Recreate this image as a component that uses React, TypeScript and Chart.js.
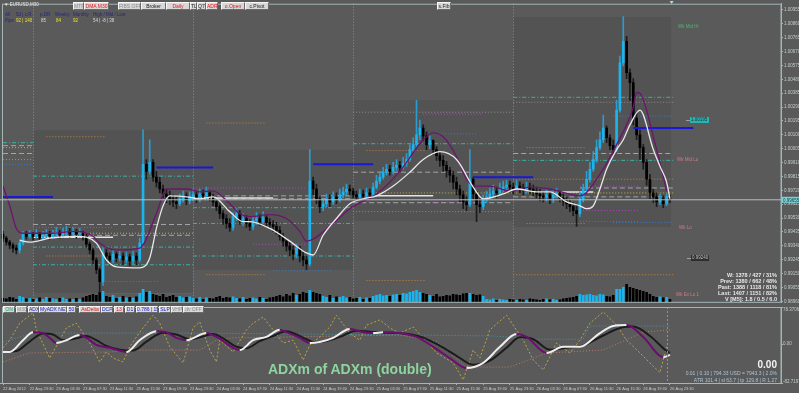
import React, { useEffect, useRef } from "react";
import { Chart, registerables } from "chart.js";

Chart.register(...registerables);

// ---------- DATA (prices in points, 1 point = 0.00001) ----------
const firstOpen = 99419;
const closePts = [
  99392, 99365, 99345, 99324, 99311, 99358, 99419, 99405, 99419, 99405,
  99419, 99392, 99412, 99426, 99405, 99419, 99432, 99412, 99426, 99439,
  99419, 99432, 99419, 99426, 99405, 99351, 99311, 99243, 99176, 99095,
  99291, 99270, 99243, 99284, 99257, 99270, 99243, 99264, 99237, 99270,
  99243, 99358, 99898, 99850, 99911, 99810, 99776, 99729, 99695, 99675,
  99662, 99641, 99628, 99662, 99682, 99648, 99675, 99689, 99662, 99695,
  99682, 99702, 99675, 99641, 99608, 99560, 99527, 99493, 99466, 99540,
  99560, 99513, 99527, 99493, 99473, 99513, 99527, 99506, 99533, 99500,
  99486, 99473, 99446, 99405, 99372, 99338, 99311, 99284, 99324, 99270,
  99243, 99216, 99783, 99729, 99662, 99608, 99628, 99662, 99641, 99675,
  99662, 99689, 99709, 99729, 99715, 99689, 99675, 99695, 99682, 99702,
  99689, 99742, 99783, 99810, 99844, 99864, 99850, 99877, 99891, 99877,
  99904, 99931, 99999, 100033, 100100, 100147, 100093, 100033, 100060, 99999,
  99958, 99925, 99891, 99857, 99823, 99776, 99729, 99689, 99641, 99621,
  99796, 99695, 99621, 99608, 99655, 99675, 99695, 99715, 99702, 99729,
  99742, 99756, 99742, 99729, 99749, 99736, 99722, 99742, 99729, 99715,
  99695, 99682, 99675, 99689, 99668, 99689, 99702, 99668, 99648, 99628,
  99608, 99581, 99560, 99662, 99729, 99796, 99864, 99931, 100012, 100066,
  100147, 100080, 100026, 99999, 100269, 100593, 100741, 100525, 100458, 100215,
  100100, 100012, 99911, 99796, 99702, 99675, 99641, 99662, 99628, 99668,
  99655,
];
const highPts = [
  99439, 99405, 99378, 99358, 99345, 99372, 99439, 99439, 99446, 99432,
  99452, 99432, 99439, 99452, 99439, 99446, 99466, 99446, 99459, 99473,
  99459, 99466, 99452, 99459, 99439, 99419, 99365, 99324, 99257, 99189,
  99324, 99318, 99291, 99311, 99297, 99304, 99291, 99297, 99284, 99304,
  99291, 99392, 100134, 99931, 100066, 99931, 99850, 99810, 99756, 99729,
  99715, 99689, 99675, 99695, 99715, 99702, 99709, 99729, 99709, 99729,
  99722, 99742, 99715, 99695, 99662, 99628, 99581, 99554, 99527, 99567,
  99594, 99581, 99560, 99547, 99520, 99540, 99567, 99554, 99574, 99547,
  99527, 99513, 99500, 99473, 99426, 99392, 99365, 99338, 99351, 99338,
  99297, 99270, 99999, 99810, 99763, 99675, 99662, 99695, 99689, 99709,
  99702, 99729, 99742, 99763, 99756, 99736, 99715, 99729, 99722, 99736,
  99729, 99769, 99823, 99850, 99877, 99898, 99891, 99911, 99931, 99918,
  99945, 99972, 100033, 100080, 100336, 100201, 100168, 100120, 100093, 100066,
  100019, 99985, 99958, 99918, 99877, 99850, 99810, 99756, 99715, 99675,
  99999, 99810, 99715, 99662, 99689, 99715, 99736, 99756, 99742, 99769,
  99783, 99790, 99783, 99769, 99790, 99776, 99763, 99776, 99769, 99756,
  99742, 99729, 99709, 99722, 99709, 99722, 99736, 99715, 99695, 99675,
  99655, 99635, 99614, 99709, 99763, 99850, 99911, 99985, 100066, 100120,
  100235, 100161, 100100, 100066, 100336, 100640, 100910, 100775, 100552, 100485,
  100255, 100134, 100033, 99931, 99830, 99729, 99702, 99695, 99682, 99695,
  99689,
];
const lowPts = [
  99372, 99345, 99318, 99297, 99284, 99291, 99345, 99385, 99392, 99378,
  99392, 99372, 99378, 99392, 99385, 99392, 99405, 99392, 99399, 99412,
  99399, 99405, 99392, 99399, 99378, 99331, 99284, 99216, 99149, 99021,
  99068, 99237, 99216, 99223, 99230, 99237, 99210, 99223, 99203, 99216,
  99210, 99230, 99338, 99796, 99830, 99783, 99742, 99702, 99668, 99635,
  99621, 99608, 99594, 99614, 99641, 99621, 99628, 99648, 99635, 99641,
  99655, 99662, 99648, 99614, 99581, 99527, 99486, 99459, 99439, 99446,
  99513, 99486, 99479, 99466, 99446, 99452, 99486, 99479, 99493, 99473,
  99459, 99439, 99419, 99378, 99338, 99304, 99270, 99243, 99257, 99230,
  99203, 99176, 99203, 99689, 99628, 99567, 99581, 99608, 99608, 99621,
  99628, 99641, 99668, 99689, 99689, 99668, 99648, 99662, 99655, 99668,
  99662, 99675, 99729, 99763, 99796, 99823, 99823, 99830, 99857, 99850,
  99864, 99884, 99918, 99979, 100012, 100066, 100060, 99999, 100006, 99965,
  99925, 99884, 99850, 99810, 99776, 99729, 99689, 99641, 99594, 99581,
  99608, 99662, 99506, 99567, 99587, 99635, 99662, 99675, 99668, 99689,
  99709, 99722, 99709, 99695, 99715, 99702, 99689, 99702, 99695, 99682,
  99668, 99648, 99641, 99648, 99628, 99635, 99668, 99641, 99614, 99594,
  99574, 99547, 99473, 99540, 99641, 99715, 99776, 99850, 99911, 99999,
  100046, 100046, 99999, 99958, 99985, 100255, 100572, 100485, 100336, 100168,
  100066, 99931, 99864, 99756, 99662, 99635, 99608, 99621, 99601, 99614,
  99635,
];
const volumeTicks = [
  400, 350, 500, 450, 300, 600, 500, 350, 400, 300, 350, 450, 300, 500, 400, 350, 300, 400, 450, 300,
  350, 300, 400, 300, 450, 600, 700, 800, 700, 1000, 1100, 600, 500, 700, 400, 500, 600, 450, 500, 400,
  550, 900, 1300, 1000, 1100, 800, 700, 600, 800, 500, 600, 700, 500, 600, 450, 500, 550, 400, 350, 500,
  300, 450, 400, 350, 500, 600, 400, 500, 450, 550, 400, 350, 500, 300, 400, 450, 350, 500, 400, 300,
  450, 500, 600, 700, 550, 800, 650, 900, 700, 800, 1000, 900, 1200, 1000, 900, 800, 600, 500, 700, 400,
  550, 500, 600, 450, 500, 350, 400, 500, 300, 450, 400, 600, 700, 800, 650, 700, 600, 750, 800, 700,
  900, 850, 1000, 1100, 1200, 1000, 900, 800, 700, 600, 800, 550, 600, 700, 650, 800, 750, 700, 850, 900,
  900, 800, 700, 750, 600, 300, 250, 350, 200, 300, 250, 200, 300, 250, 200, 300, 250, 200, 350, 300,
  250, 200, 300, 350, 250, 300, 200, 250, 350, 400, 450, 500, 600, 800, 700, 750, 800, 700, 650, 800,
  750, 600, 550, 700, 1300, 1300, 1500, 1800, 1500, 1400, 1300, 1200, 1100, 1000, 800, 600, 500, 550, 450,
  500, 300,
];
const timeLabels = [
  "22 Aug 2012", "22 Aug 23:30", "23 Aug 03:30", "23 Aug 07:30", "23 Aug 11:30", "23 Aug 15:30",
  "23 Aug 19:30", "23 Aug 23:30", "24 Aug 03:30", "24 Aug 07:30", "24 Aug 11:30", "24 Aug 15:30",
  "24 Aug 19:30", "24 Aug 23:30", "25 Aug 03:30", "25 Aug 07:30", "25 Aug 11:30", "25 Aug 15:30",
  "25 Aug 19:30", "25 Aug 23:30", "26 Aug 03:30", "26 Aug 07:30", "26 Aug 11:30", "26 Aug 15:30",
  "26 Aug 19:30", "26 Aug 23:30",
];
const priceTicks = [
  1.00955, 1.0086, 1.00765, 1.0067, 1.00575, 1.0048, 1.00385, 1.0029, 1.00195, 1.001, 1.00005,
  0.9991, 0.99815, 0.9972, 0.99625, 0.9953, 0.99435, 0.9934, 0.99245, 0.9915, 0.99055, 0.9896,
];
const bidPts = 99655;

// moving averages [bar, points]
const whiteMA = [
  [5, 99378], [8, 99365], [14, 99392], [22, 99405], [28, 99358], [31, 99243], [34, 99196], [41, 99189],
  [44, 99257], [46, 99459], [48, 99614], [50, 99682], [55, 99675], [59, 99662], [63, 99675], [68, 99574],
  [72, 99506], [74, 99506], [80, 99459], [86, 99372], [91, 99291], [93, 99277], [96, 99412], [100, 99527],
  [104, 99628], [108, 99662], [112, 99682], [117, 99749], [122, 99844], [126, 99931], [131, 99985],
  [136, 99931], [141, 99742], [144, 99662], [150, 99695], [154, 99729], [160, 99709], [164, 99709],
  [169, 99641], [173, 99614], [175, 99594], [177, 99614], [179, 99729], [181, 99864], [184, 99999],
  [186, 100066], [188, 100168], [191, 100269], [195, 99999], [197, 99884], [199, 99776], [200, 99662],
];
const purpleMA = [
  [0, 99749], [2, 99614], [4, 99459], [6, 99426], [14, 99426], [22, 99439], [27, 99405], [29, 99358],
  [34, 99311], [41, 99324], [46, 99560], [49, 99729], [55, 99729], [59, 99709], [63, 99715], [68, 99628],
  [71, 99560], [74, 99540], [80, 99554], [85, 99527], [89, 99439], [91, 99372], [98, 99473], [104, 99594],
  [112, 99695], [119, 99850], [126, 100066], [129, 100114], [132, 100087], [136, 99952], [139, 99796],
  [142, 99749], [146, 99749], [152, 99715], [158, 99742], [164, 99729], [173, 99682], [179, 99830],
  [184, 100033], [189, 100289], [190, 100390], [191, 100384], [193, 100269], [195, 100087], [197, 99911],
  [199, 99715],
];

// level lines [fromBar, toBar, points]
const tealLevels = [
  [0, 9, 100046], [9, 57, 99817], [9, 57, 99331], [9, 57, 99210], [57, 105, 99493], [57, 105, 99270],
  [57, 105, 99601], [105, 153, 100039], [153, 201, 100357], [153, 201, 99925],
];
const grayDashLevels = [
  [0, 9, 100026], [0, 9, 99972], [9, 57, 99486], [9, 57, 99412], [57, 105, 99682], [57, 105, 99662],
  [105, 153, 99844], [105, 153, 99635], [153, 201, 99972], [173, 201, 99736], [153, 201, 99675],
];
const grayDotLevels = [[105, 153, 100255], [105, 153, 99574], [153, 201, 100323]];
const orangeLevels = [
  [0, 9, 99931], [13, 31, 100087], [13, 31, 99270], [61, 79, 100181], [61, 79, 99142], [109, 127, 99992],
  [109, 127, 99102], [157, 175, 100012], [157, 175, 99493], [153, 201, 99796], [153, 201, 99142],
];
const purpleLevels = [
  [9, 33, 99466], [29, 47, 99095], [57, 91, 99736], [75, 91, 99351], [126, 144, 100242], [126, 144, 99635],
  [173, 191, 99749], [173, 191, 99581],
];
const blueLevels = [
  [0, 9, 99898], [29, 57, 99014], [81, 99, 99169], [128, 142, 100107], [183, 201, 100228],
  [173, 191, 99506], [183, 201, 99500],
];
const yellowLevels = [[0, 9, 100012], [9, 57, 99426], [110, 153, 99702], [153, 201, 99702]];
const openLevels = [[9, 33, 99399], [57, 81, 99668], [111, 129, 99682], [167, 177, 99709]];
const blueBars = [[0, 15, 99675], [46, 63, 99877], [93, 111, 99898], [141, 159, 99810], [189, 207, 100147]];
const daySeparators = [9, 57, 105, 153];
const dayRanges = [[9, 57], [57, 105], [105, 153], [153, 200.5]];

// ADXm sub-window [bar, value]
const adxMain = [
  [0, -17], [2, -17], [6, 8], [9, 25], [12, 23], [14, 13], [16, 2], [19, 8], [23, 19], [25, 13], [28, -2],
  [32, -8], [37, -17], [41, 8], [46, 27], [49, 25], [52, 13], [55, 8], [61, 23], [64, 15], [69, -8],
  [71, -13], [75, 8], [79, 15], [83, 30], [85, 25], [89, 13], [92, 2], [95, 4], [99, 13], [104, 32],
  [107, 27], [111, 23], [114, 25], [119, 23], [124, 15], [129, -6], [134, -30], [139, -51], [144, -40],
  [149, -6], [154, 21], [157, 15], [163, -19], [168, -6], [173, -6], [179, 23], [183, 38], [187, 40],
  [192, 15], [198, -28], [200, -23],
];
const adxSignal = [
  [0, -17], [4, -15], [8, 5], [12, 22], [15, 20], [18, 8], [22, 12], [25, 17], [28, 8], [31, -4], [35, -12],
  [39, -14], [43, 5], [48, 24], [52, 20], [56, 10], [59, 14], [63, 21], [66, 12], [70, -6], [73, -9],
  [77, 6], [81, 17], [85, 27], [88, 20], [91, 10], [94, 3], [97, 6], [101, 15], [106, 28], [110, 26],
  [114, 24], [119, 23], [125, 16], [130, 0], [136, -25], [141, -44], [146, -35], [151, -8], [155, 14],
  [159, 10], [164, -12], [169, -8], [174, -3], [180, 18], [185, 34], [189, 37], [194, 17], [199, -15],
  [200, -19],
];
const adxZigzag = [
  [0, -8], [2, 8], [5, 44], [9, 66], [10, 30], [14, -30], [17, 8], [19, 34], [22, 44], [26, 2], [29, -38],
  [31, -17], [33, -30], [36, -38], [38, -6], [41, 25], [45, 61], [47, 44], [50, -6], [54, -40], [57, 34],
  [59, 47], [62, -13], [64, -38], [65, 8], [69, -17], [73, 30], [75, 44], [78, 57], [81, 30], [84, 2],
  [87, 8], [90, -34], [92, -2], [95, 15], [98, 36], [100, 61], [104, 23], [107, 8], [109, 40], [113, 51],
  [116, 34], [119, 23], [123, 36], [130, -19], [135, -40], [138, -76], [141, -13], [143, -30], [146, 30],
  [151, 61], [156, 8], [159, -34], [162, -55], [166, 2], [170, -19], [173, 8], [176, 44], [180, 68],
  [184, 40], [187, 8], [191, -19], [197, -61], [199, -6],
];
const adxUpper = [[0, 4], [9, 23], [60, 23], [120, 19], [147, 17], [160, 10], [174, 10], [176, 38], [200, 38]];
const adxLower = [
  [0, -38], [8, -19], [32, -17], [39, -13], [59, -13], [64, 8], [69, 13], [119, 19], [130, 5], [139, -49],
  [152, -49], [163, -19], [180, -13], [192, 25], [200, 30],
];
const subMax = 78.37061;
const subMin = -82.71975;

// ---------- STYLE ----------
const BG = "#5a5a5a";
const RANGE_BG = "#535353";
const AXIS = "#a2b6b6";
const UP = "#1ab4ee";
const DOWN = "#000000";
const FONT = "'Liberation Sans', Arial, sans-serif";
const X_MIN = -0.9;
const X_MAX = 233.3;

const p = (v: number) => v / 100000;
const segData = (segs: number[][]) => {
  const out: any[] = [];
  segs.forEach(([a, b, v]) => {
    out.push({ x: a, y: p(v) }, { x: b, y: p(v) }, { x: b, y: null });
  });
  return out;
};
const levelSet = (segs: number[][], color: string, dash: number[], width = 1, order = 20) => ({
  type: "line",
  data: segData(segs),
  borderColor: color,
  borderWidth: width,
  borderDash: dash,
  pointRadius: 0,
  spanGaps: false,
  order,
});

function mainConfig(): any {
  const opens = closePts.map((_, i) => (i === 0 ? firstOpen : closePts[i - 1]));
  const up = closePts.map((c, i) => c >= opens[i]);
  const bodies = closePts.map((c, i) => ({ x: i, y: [p(opens[i]), p(c === opens[i] ? c + 2 : c)] }));
  const wicks = closePts.map((_, i) => ({ x: i, y: [p(lowPts[i]), p(highPts[i])] }));
  const vols = volumeTicks.map((v, i) => ({ x: i, y: v }));
  const bid = p(bidPts);

  const bgPlugin = {
    id: "mainbg",
    beforeDraw(chart: any) {
      const { ctx, chartArea: a, scales } = chart;
      ctx.save();
      ctx.fillStyle = BG;
      ctx.fillRect(0, 0, chart.width, chart.height);
      // daily high-low range boxes
      ctx.fillStyle = RANGE_BG;
      dayRanges.forEach(([s, e]) => {
        const hi = Math.max(...highPts.slice(s, Math.ceil(e)));
        const lo = Math.min(...lowPts.slice(s, Math.ceil(e)));
        const x0 = scales.x.getPixelForValue(s);
        const x1 = scales.x.getPixelForValue(e);
        const y0 = scales.y.getPixelForValue(p(hi));
        const y1 = scales.y.getPixelForValue(p(lo));
        ctx.fillRect(Math.round(x0), Math.round(y0), Math.round(x1 - x0), Math.round(y1 - y0));
      });
      ctx.strokeStyle = "#8e8e8e";
      ctx.setLineDash([1, 2]);
      ctx.lineWidth = 1;
      daySeparators.forEach((b) => {
        const x = Math.round(scales.x.getPixelForValue(b)) + 0.5;
        ctx.beginPath();
        ctx.moveTo(x, a.top);
        ctx.lineTo(x, a.bottom);
        ctx.stroke();
      });
      ctx.restore();
    },
    afterDraw(chart: any) {
      const { ctx, chartArea: a, scales } = chart;
      ctx.save();
      ctx.strokeStyle = AXIS;
      ctx.lineWidth = 1;
      ctx.strokeRect(2.5, a.top + 0.5, a.right - 2.5, a.bottom - a.top - 0.5);
      // bid label on price axis
      const y = scales.y.getPixelForValue(bid);
      ctx.fillStyle = "#78d2d6";
      ctx.fillRect(a.right + 1, y - 3, 17, 6);
      ctx.fillStyle = "#204040";
      ctx.font = `4.5px ${FONT}`;
      ctx.textBaseline = "middle";
      ctx.fillText(bid.toFixed(5), a.right + 2, y + 0.5);
      // current bar marker
      const xm = scales.x.getPixelForValue(200.5);
      ctx.fillStyle = "#9fe0f0";
      ctx.beginPath();
      ctx.moveTo(xm - 2, 1);
      ctx.lineTo(xm + 2, 1);
      ctx.lineTo(xm, 4);
      ctx.fill();
      ctx.restore();
    },
  };

  return {
    type: "bar",
    data: {
      datasets: [
        { type: "line", data: [{ x: X_MIN, y: bid }, { x: X_MAX, y: bid }], borderColor: "#b4bebe", borderWidth: 1, pointRadius: 0, order: 1 },
        { type: "line", data: whiteMA.map(([x, v]) => ({ x, y: p(v) })), borderColor: "#e8e8e8", borderWidth: 1.3, pointRadius: 0, cubicInterpolationMode: "monotone", order: 2 },
        { type: "line", data: purpleMA.map(([x, v]) => ({ x, y: p(v) })), borderColor: "#6e1470", borderWidth: 1.3, pointRadius: 0, cubicInterpolationMode: "monotone", order: 2 },
        levelSet(blueBars, "#1818d8", [], 2, 3),
        { type: "bar", data: bodies, backgroundColor: up.map((u) => (u ? UP : DOWN)), barThickness: 2, grouped: false, order: 4 },
        { type: "bar", data: wicks, backgroundColor: up.map((u) => (u ? "#2a9cd0" : "#1c1c1c")), barThickness: 1, grouped: false, order: 5 },
        { type: "bar", yAxisID: "yv", data: vols, backgroundColor: up.map((u) => (u ? UP : DOWN)), barThickness: 2, grouped: false, order: 6 },
        levelSet(openLevels, "#e4e4e4", [], 1.5, 7),
        levelSet(tealLevels, "#3cb2a6", [4, 2, 1, 2]),
        levelSet(grayDashLevels, "#a6a6a6", [5, 3]),
        levelSet(grayDotLevels, "#8c8c8c", [1, 2]),
        levelSet(orangeLevels, "#c4843c", [1, 2]),
        levelSet(purpleLevels, "#b444c4", [1, 2]),
        levelSet(blueLevels, "#3a78d0", [1, 2]),
        levelSet(yellowLevels, "#bcb440", [1, 2]),
      ],
    },
    options: {
      animation: false,
      responsive: false,
      devicePixelRatio: 1,
      events: [],
      layout: { padding: { top: 2, bottom: 1, left: 0, right: 0 } },
      plugins: { legend: { display: false }, tooltip: { enabled: false } },
      scales: {
        x: { type: "linear", min: X_MIN, max: X_MAX, display: false, offset: false },
        y: {
          type: "linear",
          position: "right",
          min: 0.98953,
          max: 1.00998,
          afterBuildTicks: (s: any) => {
            s.ticks = priceTicks.map((v) => ({ value: v }));
          },
          afterFit: (s: any) => {
            s.width = 18;
          },
          grid: { drawOnChartArea: false, color: AXIS, tickLength: 2 },
          border: { color: AXIS },
          ticks: { color: "#c4cccc", font: { size: 4.5, family: FONT }, padding: 1, callback: (v: any) => Number(v).toFixed(5) },
        },
        yv: { type: "linear", display: false, min: 0, max: 30000 },
      },
    },
    plugins: [bgPlugin],
  };
}

function subConfig(): any {
  const plugin = {
    id: "subbg",
    beforeDraw(chart: any) {
      const { ctx } = chart;
      ctx.save();
      ctx.fillStyle = BG;
      ctx.fillRect(0, 0, chart.width, chart.height);
      ctx.restore();
    },
    afterDatasetsDraw(chart: any) {
      const { ctx, chartArea: a, scales } = chart;
      ctx.save();
      const x = Math.round(scales.x.getPixelForValue(199)) + 0.5;
      ctx.strokeStyle = "#909090";
      ctx.setLineDash([2, 2]);
      ctx.beginPath();
      ctx.moveTo(x, a.top);
      ctx.lineTo(x, a.bottom);
      ctx.stroke();
      ctx.restore();
    },
    afterDraw(chart: any) {
      const { ctx, chartArea: a, scales } = chart;
      ctx.save();
      ctx.strokeStyle = AXIS;
      ctx.lineWidth = 1;
      ctx.strokeRect(2.5, a.top + 0.5, a.right - 2.5, a.bottom - a.top);
      ctx.fillStyle = "#c4cccc";
      ctx.font = `4.5px ${FONT}`;
      ctx.textBaseline = "middle";
      const ys = scales.y;
      [
        [subMax, 3, subMax.toFixed(5)],
        [0, 0, "0.00"],
        [subMin, -1, subMin.toFixed(5)],
      ].forEach(([v, off, t]: any) => {
        const y = ys.getPixelForValue(v);
        ctx.fillText(t, a.right + 2, y + off);
        ctx.beginPath();
        ctx.moveTo(a.right, Math.round(y) + 0.5);
        ctx.lineTo(a.right + 2, Math.round(y) + 0.5);
        ctx.strokeStyle = AXIS;
        ctx.stroke();
      });
      ctx.restore();
    },
  };
  const line = (arr: number[][]) => arr.map(([x, y]) => ({ x, y }));
  return {
    type: "line",
    data: {
      datasets: [
        {
          data: line(adxMain),
          borderWidth: 2,
          pointRadius: 0,
          cubicInterpolationMode: "monotone",
          borderColor: "#eeeeee",
          segment: { borderColor: (c: any) => (c.p1.parsed.y < c.p0.parsed.y ? "#6e0c72" : "#eeeeee") },
          order: 1,
        },
        { data: line(adxSignal), borderWidth: 2, pointRadius: 0, cubicInterpolationMode: "monotone", borderColor: "#1c1c1c", order: 2 },
        { data: line(adxZigzag), borderWidth: 1, pointRadius: 0, borderColor: "#bca444", borderDash: [2, 2], order: 3 },
        { data: line(adxUpper), borderWidth: 1, pointRadius: 0, borderColor: "#3a9cb4", borderDash: [1, 2], order: 4 },
        { data: line(adxLower), borderWidth: 1, pointRadius: 0, borderColor: "#c07a68", borderDash: [1, 2], order: 4 },
      ],
    },
    options: {
      animation: false,
      responsive: false,
      devicePixelRatio: 1,
      events: [],
      layout: { padding: { top: 1, bottom: 0, left: 0, right: 0 } },
      plugins: { legend: { display: false }, tooltip: { enabled: false } },
      scales: {
        x: {
          type: "linear",
          min: X_MIN,
          max: X_MAX,
          offset: false,
          afterBuildTicks: (s: any) => {
            s.ticks = timeLabels.map((_, k) => ({ value: k * 8 }));
          },
          afterFit: (s: any) => {
            s.height = 10;
          },
          grid: { drawOnChartArea: false, color: AXIS, tickLength: 2 },
          border: { color: AXIS },
          ticks: {
            color: "#c4cccc",
            font: { size: 4, family: FONT },
            align: "start",
            maxRotation: 0,
            minRotation: 0,
            autoSkip: false,
            padding: 1,
            callback: (v: any) => timeLabels[Math.round(Number(v) / 8)],
          },
        },
        y: {
          type: "linear",
          position: "right",
          min: subMin,
          max: subMax,
          afterFit: (s: any) => {
            s.width = 18;
          },
          grid: { drawOnChartArea: false, drawTicks: false },
          border: { color: AXIS },
          ticks: { display: false },
        },
      },
    },
    plugins: [plugin],
  };
}

// ---------- OVERLAY TEXT ----------
type BtnProps = { x: number; y: number; w: number; h?: number; t: string; c?: string };
const Btn = ({ x, y, w, h = 8, t, c = "#202020" }: BtnProps) => (
  <div
    style={{
      position: "absolute",
      left: x,
      top: y,
      width: w,
      height: h,
      boxSizing: "border-box",
      background: "#d8d8d8",
      borderStyle: "solid",
      borderWidth: 1,
      borderColor: "#f6f6f6 #6a6a6a #6a6a6a #f6f6f6",
      color: c,
      fontSize: 5,
      lineHeight: `${h - 2}px`,
      textAlign: "center",
      whiteSpace: "nowrap",
      overflow: "hidden",
      fontFamily: FONT,
    }}
  >
    {t}
  </div>
);
type TxtProps = { x: number; y: number; t: string; c?: string; s?: number; b?: boolean; right?: boolean };
const Txt = ({ x, y, t, c = "#e0e0e0", s = 5, b = false, right = false }: TxtProps) => (
  <div
    style={{
      position: "absolute",
      left: right ? undefined : x,
      right: right ? 799 - x : undefined,
      top: y,
      color: c,
      fontSize: s,
      fontWeight: b ? "bold" : "normal",
      lineHeight: 1,
      whiteSpace: "nowrap",
      fontFamily: FONT,
    }}
  >
    {t}
  </div>
);

const RED = "#e01818";
const BLUE_T = "#2222cc";
const GRAY_T = "#8a8a8a";
const NAVY = "#26267a";
const YEL = "#e2e23a";

export default function App() {
  const mainRef = useRef<HTMLCanvasElement>(null);
  const subRef = useRef<HTMLCanvasElement>(null);
  useEffect(() => {
    const c1 = new Chart(mainRef.current as HTMLCanvasElement, mainConfig());
    const c2 = new Chart(subRef.current as HTMLCanvasElement, subConfig());
    return () => {
      c1.destroy();
      c2.destroy();
    };
  }, []);
  return (
    <div style={{ position: "fixed", left: 0, top: 0, width: 799, height: 393, background: BG, overflow: "hidden" }}>
      <canvas ref={mainRef} width={799} height={306} style={{ position: "absolute", left: 0, top: 0, width: 799, height: 306 }} />
      <canvas ref={subRef} width={799} height={87} style={{ position: "absolute", left: 0, top: 306, width: 799, height: 87 }} />

      {/* top-left symbol & info */}
      <Txt x={4} y={2.5} t="▼ EURUSD,M30" c="#e8e8e8" s={4.5} />
      <Txt x={5} y={13} t="All" c={NAVY} s={4.5} />
      <Txt x={5} y={18.5} t="Pips" c={NAVY} s={4.5} />
      <Txt x={16} y={13} t="5d | c.R." c={NAVY} s={4.5} />
      <Txt x={16} y={18.5} t="92 | 140" c={YEL} s={4.5} />
      <Txt x={40} y={13} t="p.DR" c={NAVY} s={4.5} />
      <Txt x={41} y={18.5} t="85" c="#d8d8d8" s={4.5} />
      <Txt x={55} y={13} t="Weekly" c={NAVY} s={4.5} />
      <Txt x={56} y={18.5} t="84" c={YEL} s={4.5} />
      <Txt x={73} y={13} t="Monthly" c={NAVY} s={4.5} />
      <Txt x={73} y={18.5} t="92" c={YEL} s={4.5} />
      <Txt x={93} y={13} t="High / Mid / Low" c={NAVY} s={4.5} />
      <Txt x={93} y={18.5} t="54 | -8 | 38" c="#d8d8d8" s={4.5} />

      {/* top buttons */}
      <Btn x={73} y={2} w={11} t="MTF" c={GRAY_T} />
      <Btn x={84} y={2} w={25} t="DMA M30" c={RED} />
      <Btn x={118} y={2} w={23} t="FIBS OFF" c={GRAY_T} />
      <Btn x={141} y={2} w={25} t="Broker" />
      <Btn x={166} y={2} w={24} t="Daily" c={RED} />
      <Btn x={190} y={2} w={7} t="TL" />
      <Btn x={197} y={2} w={9} t="Q70" />
      <Btn x={206} y={2} w={12} t="ADR" c={RED} />
      <Btn x={221} y={2} w={24} t="o.Open" c={RED} />
      <Btn x={245} y={2} w={24} t="c.Pivot" />
      <Btn x={437} y={2} w={14} t="s.Fib" />

      {/* right side labels */}
      <Txt x={678} y={25} t="Wk Mid Hi" c="#58b078" s={4.5} />
      <Txt x={677} y={158} t="Wk Mid Lo" c="#d07c84" s={4.5} />
      <Txt x={679} y={226} t="Wk Lo" c="#d07c84" s={4.5} />
      <Txt x={676} y={293} t="Wk Ex Lo 1" c="#d07c84" s={4.5} />
      <div style={{ position: "absolute", left: 686, top: 120, width: 4, height: 1, background: "#a0a0a0" }} />
      <div style={{ position: "absolute", left: 690, top: 117, width: 19, height: 6, background: "#2eb0b0" }} />
      <Txt x={691} y={118} t="1.00195" c="#103838" s={4.5} />
      <div style={{ position: "absolute", left: 687, top: 258, width: 4, height: 1, background: "#a0a0a0" }} />
      <div style={{ position: "absolute", left: 691, top: 255, width: 18, height: 6, background: "#2e2e2e" }} />
      <Txt x={692} y={256} t="0.99240" c="#c0c0c0" s={4.5} />

      {/* stats */}
      <Txt x={777} y={272.5} t="W: 1378 / 427 / 31%" c="#e8e8e8" s={5.5} b right />
      <Txt x={777} y={278.5} t="Prev: 1380 / 662 / 48%" c="#e8e8e8" s={5.5} b right />
      <Txt x={777} y={284.5} t="Past: 1388 / 1118 / 81%" c="#e8e8e8" s={5.5} b right />
      <Txt x={777} y={291} t="Last: 1407 / 1151 / 82%" c="#e8e8e8" s={5.5} b right />
      <Txt x={777} y={297} t="V [M5]: 1.8 / 0.5 / 6.0" c="#e8e8e8" s={5.5} b right />

      {/* sub-window buttons */}
      <Btn x={3} y={306} w={12} h={7} t="ON" c="#1e9a1e" />
      <Btn x={16} y={306} w={11} h={7} t="M30" c={GRAY_T} />
      <Btn x={28} y={306} w={11} h={7} t="ADX" c={BLUE_T} />
      <Btn x={39} y={306} w={28} h={7} t="MyADX NET" c={BLUE_T} />
      <Btn x={67} y={306} w={9} h={7} t="50" c={BLUE_T} />
      <Btn x={79} y={306} w={22} h={7} t="AsDelta" c={RED} />
      <Btn x={101} y={306} w={12} h={7} t="DCP" c={BLUE_T} />
      <Btn x={114} y={306} w={10} h={7} t="13" c={RED} />
      <Btn x={125} y={306} w={10} h={7} t="D1" c={BLUE_T} />
      <Btn x={136} y={306} w={22} h={7} t="0.786 | 15" c={BLUE_T} />
      <Btn x={159} y={306} w={12} h={7} t="SLP" c={BLUE_T} />
      <Btn x={171} y={306} w={12} h={7} t="VHP" c={GRAY_T} />
      <Btn x={183} y={306} w={21} h={7} t="dv OFF" c={GRAY_T} />

      {/* sub-window texts */}
      <Txt x={268} y={362} t="ADXm of ADXm (double)" c="#8ed49e" s={14} b />
      <Txt x={777} y={360} t="0.00" c="#f4f4f4" s={10} b right />
      <Txt x={777} y={371} t="0.01  |  0.10  |  794.33 USD = 7943.3  |  2.0%" c="#a8c4d8" s={5} right />
      <Txt x={777} y={378} t="ATR 101.4  |  sl 63.7  |  tp 129.8  |  R 1.27" c="#a8c4d8" s={5} right />
    </div>
  );
}
